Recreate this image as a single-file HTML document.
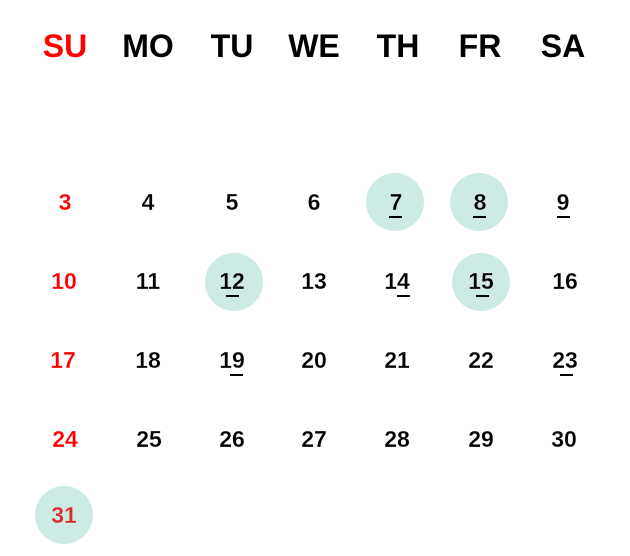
<!DOCTYPE html>
<html><head><meta charset="utf-8"><style>
body{margin:0;width:630px;height:556px;background:#fff;position:relative;overflow:hidden;font-family:"Liberation Sans",sans-serif}
.h{position:absolute;top:27px;width:80px;margin-left:-40px;text-align:center;font-weight:bold;font-size:32px;line-height:38px;color:#000}
.c{position:absolute;width:58px;height:58px;border-radius:50%;background:#cdeae5;margin:-29px 0 0 -29px}
.n{position:absolute;width:60px;margin-left:-30px;text-align:center;font-size:23px;font-weight:bold;line-height:26px;margin-top:-13px;color:#000;-webkit-text-stroke:0.2px #fff}
.r{color:#ff0000}
.u{position:absolute;width:13px;height:2px;background:#000}
</style></head><body>
<div class="h r" style="left:65px">SU</div>
<div class="h" style="left:148px">MO</div>
<div class="h" style="left:232px">TU</div>
<div class="h" style="left:314px">WE</div>
<div class="h" style="left:398px">TH</div>
<div class="h" style="left:480px">FR</div>
<div class="h" style="left:563px">SA</div>

<div class="c" style="left:395px;top:202px"></div>
<div class="c" style="left:479px;top:202px"></div>
<div class="c" style="left:234px;top:282px"></div>
<div class="c" style="left:481px;top:282px"></div>
<div class="c" style="left:64px;top:515px"></div>

<div class="n r" style="left:65px;top:202px">3</div>
<div class="n" style="left:148px;top:202px">4</div>
<div class="n" style="left:232px;top:202px">5</div>
<div class="n" style="left:314px;top:202px">6</div>
<div class="n" style="left:396px;top:202px">7</div>
<div class="n" style="left:480px;top:202px">8</div>
<div class="n" style="left:563px;top:202px">9</div>

<div class="n r" style="left:64px;top:281px">10</div>
<div class="n" style="left:148px;top:281px">11</div>
<div class="n" style="left:232px;top:281px">12</div>
<div class="n" style="left:314px;top:281px">13</div>
<div class="n" style="left:397px;top:281px">14</div>
<div class="n" style="left:481px;top:281px">15</div>
<div class="n" style="left:565px;top:281px">16</div>

<div class="n r" style="left:63px;top:360px">17</div>
<div class="n" style="left:148px;top:360px">18</div>
<div class="n" style="left:232px;top:360px">19</div>
<div class="n" style="left:314px;top:360px">20</div>
<div class="n" style="left:397px;top:360px">21</div>
<div class="n" style="left:481px;top:360px">22</div>
<div class="n" style="left:565px;top:360px">23</div>

<div class="n r" style="left:65px;top:439px">24</div>
<div class="n" style="left:149px;top:439px">25</div>
<div class="n" style="left:232px;top:439px">26</div>
<div class="n" style="left:314px;top:439px">27</div>
<div class="n" style="left:397px;top:439px">28</div>
<div class="n" style="left:481px;top:439px">29</div>
<div class="n" style="left:564px;top:439px">30</div>

<div class="n" style="left:64px;top:515px;color:#d32f2f">31</div>

<div class="u" style="left:389px;top:216px"></div>
<div class="u" style="left:473px;top:216px"></div>
<div class="u" style="left:557px;top:216px"></div>
<div class="u" style="left:226px;top:295px"></div>
<div class="u" style="left:397px;top:295px"></div>
<div class="u" style="left:476px;top:295px"></div>
<div class="u" style="left:230px;top:374px"></div>
<div class="u" style="left:560px;top:374px"></div>
</body></html>
